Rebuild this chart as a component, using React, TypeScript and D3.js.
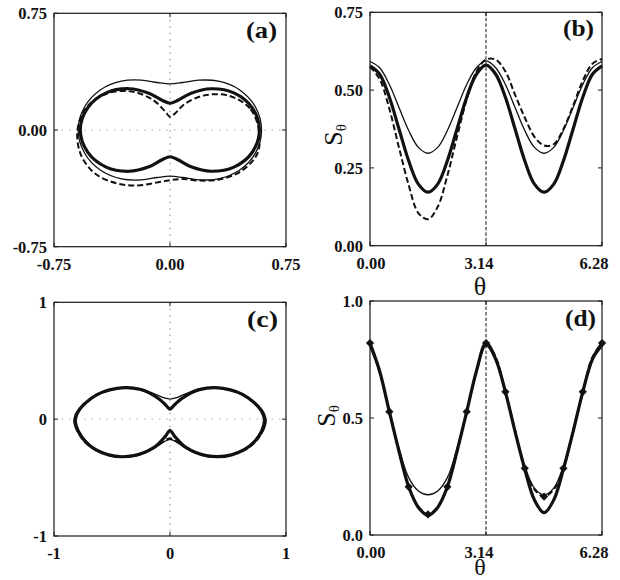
import React from 'react';
import * as d3 from 'd3';

// sample angles (rad), step pi/12
const THETA = [0, 0.262, 0.524, 0.785, 1.047, 1.309, 1.571, 1.833, 2.094, 2.356, 2.618, 2.880, 3.142,
  3.403, 3.665, 3.927, 4.189, 4.451, 4.712, 4.974, 5.236, 5.498, 5.760, 6.021, 6.283];

// panel (b) / (a)
const B_THIN = [0.592, 0.572, 0.518, 0.444, 0.370, 0.316, 0.297, 0.316, 0.370, 0.444, 0.518, 0.572, 0.594,
  0.572, 0.518, 0.444, 0.370, 0.316, 0.297, 0.316, 0.370, 0.444, 0.518, 0.572, 0.592];
const B_THICK = [0.578, 0.551, 0.477, 0.375, 0.273, 0.198, 0.172, 0.198, 0.273, 0.375, 0.477, 0.551, 0.580,
  0.551, 0.477, 0.375, 0.273, 0.198, 0.172, 0.198, 0.273, 0.375, 0.477, 0.551, 0.578];
const B_DASHED = [0.575, 0.535, 0.440, 0.315, 0.195, 0.105, 0.085, 0.125, 0.225, 0.350, 0.470, 0.560, 0.598,
  0.598, 0.560, 0.485, 0.412, 0.350, 0.322, 0.326, 0.375, 0.450, 0.530, 0.585, 0.600];

// panel (d) / (c)
const D_THIN = [0.805, 0.695, 0.527, 0.370, 0.245, 0.188, 0.172, 0.188, 0.245, 0.370, 0.527, 0.695, 0.808,
  0.745, 0.608, 0.448, 0.295, 0.200, 0.172, 0.200, 0.295, 0.448, 0.608, 0.745, 0.805];
const D_THICK = [0.820, 0.700, 0.527, 0.358, 0.206, 0.118, 0.085, 0.118, 0.206, 0.358, 0.527, 0.700, 0.820,
  0.752, 0.612, 0.442, 0.282, 0.150, 0.095, 0.150, 0.282, 0.442, 0.612, 0.752, 0.820];
const D_DASHED = [0.820, 0.695, 0.527, 0.355, 0.206, 0.122, 0.088, 0.122, 0.206, 0.355, 0.527, 0.695, 0.820,
  0.760, 0.612, 0.448, 0.285, 0.195, 0.164, 0.195, 0.285, 0.448, 0.612, 0.760, 0.820];

const A_TICKS = [-0.75, 0, 0.75];
const A_LABELS = ['-0.75', '0.00', '0.75'];
const C_TICKS = [-1, 0, 1];
const C_LABELS = ['-1', '0', '1'];
const THETA_TICKS = [0, 3.14, 6.28];
const THETA_LABELS = ['0.00', '3.14', '6.28'];
const B_YTICKS = [0, 0.25, 0.5, 0.75];
const B_YLABELS = ['0.00', '0.25', '0.50', '0.75'];
const D_YTICKS = [0, 0.5, 1];
const D_YLABELS = ['0.0', '0.5', '1.0'];

const FONT = "'Liberation Serif', 'DejaVu Serif', serif";

type Style = { w: number; dash?: string };
const THIN: Style = { w: 1.3 };
const THICK: Style = { w: 3.2 };
const DASH: Style = { w: 2, dash: '6,3' };

type Box = { x0: number; x1: number; y0: number; y1: number };

function Frame({ b, xt, yt, xs, ys }: { b: Box; xt: number[]; yt: number[]; xs: any; ys: any }) {
  const L = 4;
  return (
    <g>
      <rect x={b.x0} y={b.y0} width={b.x1 - b.x0} height={b.y1 - b.y0} fill="none" stroke="#1a1a1a" strokeWidth={1.2} />
      {yt.map((v, i) => (
        <g key={'y' + i}>
          <line x1={b.x0} x2={b.x0 + L} y1={ys(v)} y2={ys(v)} stroke="#1a1a1a" strokeWidth={1} />
          <line x1={b.x1} x2={b.x1 - L} y1={ys(v)} y2={ys(v)} stroke="#1a1a1a" strokeWidth={1} />
        </g>
      ))}
      {xt.map((v, i) => (
        <g key={'x' + i}>
          <line x1={xs(v)} x2={xs(v)} y1={b.y1} y2={b.y1 - L} stroke="#1a1a1a" strokeWidth={1} />
          <line x1={xs(v)} x2={xs(v)} y1={b.y0} y2={b.y0 + L} stroke="#1a1a1a" strokeWidth={1} />
        </g>
      ))}
    </g>
  );
}

function TickLabels({ b, xt, xl, yt, yl, xs, ys, xlShift }: any) {
  return (
    <g fontFamily={FONT} fontWeight="bold" fontSize={16.5} fill="#111">
      {yt.map((v: number, i: number) => (
        <text key={'yl' + i} x={b.x0 - 7} y={ys(v) + 6} textAnchor="end">{yl[i]}</text>
      ))}
      {xt.map((v: number, i: number) => (
        <text key={'xl' + i} x={xs(v) + (xlShift ? xlShift[i] : 0)} y={b.y1 + 23} textAnchor="middle">{xl[i]}</text>
      ))}
    </g>
  );
}

function PanelLabel({ x, y, t }: { x: number; y: number; t: string }) {
  return (
    <text x={x} y={y} textAnchor="end" fontFamily={FONT} fontSize={23} fontWeight="bold" fill="#111"
      textLength={31} lengthAdjust="spacingAndGlyphs">{t}</text>
  );
}

function PolarPanel({ b, dom, ticks, labels, series, label, lx, ly }: any) {
  const xs = d3.scaleLinear().domain([-dom, dom]).range([b.x0, b.x1]);
  const ys = d3.scaleLinear().domain([-dom, dom]).range([b.y1, b.y0]);
  const line = d3.line().curve(d3.curveCatmullRomClosed.alpha(0.5));
  return (
    <g>
      <line x1={xs(0)} x2={xs(0)} y1={b.y0} y2={b.y1} stroke="#777" strokeWidth={0.9} strokeDasharray="1.5,5" />
      <line x1={b.x0} x2={b.x1} y1={ys(0)} y2={ys(0)} stroke="#999" strokeWidth={0.8} strokeDasharray="1.5,6" />
      {series.map((s: any, i: number) => {
        const pts = THETA.slice(0, 24).map((t, k) => [xs(s.v[k] * Math.cos(t)), ys(s.v[k] * Math.sin(t))] as [number, number]);
        return <path key={i} d={line(pts) || ''} fill="none" stroke="#111" strokeWidth={s.st.w}
          strokeDasharray={s.st.dash} strokeLinejoin="round" />;
      })}
      <Frame b={b} xt={ticks} yt={ticks} xs={xs} ys={ys} />
      <TickLabels b={b} xt={ticks} xl={labels} yt={ticks} yl={labels} xs={xs} ys={ys} />
      <PanelLabel x={lx} y={ly} t={label} />
    </g>
  );
}

function CartPanel({ b, ymax, yt, yl, series, markers, label, lx, ly, sx, sy, ty, tf }: any) {
  const xs = d3.scaleLinear().domain([0, 6.28]).range([b.x0, b.x1]);
  const ys = d3.scaleLinear().domain([0, ymax]).range([b.y1, b.y0]);
  const line = d3.line<number>().x((_, i) => xs(THETA[i])).y(d => ys(d)).curve(d3.curveCatmullRom.alpha(0.5));
  const sym = d3.symbol(d3.symbolSquare, 34)();
  return (
    <g>
      <line x1={xs(3.14)} x2={xs(3.14)} y1={b.y0} y2={b.y1} stroke="#111" strokeWidth={1} strokeDasharray="3.5,2" />
      {series.map((s: any, i: number) => (
        <path key={i} d={line(s.v) || ''} fill="none" stroke="#111" strokeWidth={s.st.w}
          strokeDasharray={s.st.dash} strokeLinejoin="round" />
      ))}
      {markers && markers.map((v: number, k: number) => (k % 2 === 0 ? (
        <path key={'m' + k} d={sym || ''} transform={`translate(${xs(THETA[k])},${ys(v)}) rotate(45)`} fill="#111" />
      ) : null))}
      <Frame b={b} xt={THETA_TICKS} yt={yt} xs={xs} ys={ys} />
      <TickLabels b={b} xt={THETA_TICKS} xl={THETA_LABELS} yt={yt} yl={yl} xs={xs} ys={ys} xlShift={[1, -7, -8]} />
      <PanelLabel x={lx} y={ly} t={label} />
      <text x={480} y={ty} textAnchor="middle" fontFamily={FONT} fontSize={tf} fill="#111">θ</text>
      <text transform={`translate(${sx},${sy}) rotate(-90)`} textAnchor="middle" fontFamily={FONT} fontSize={26} fill="#111">
        S<tspan fontSize={15} dy={4}>θ</tspan>
      </text>
    </g>
  );
}

export default function App() {
  const A: Box = { x0: 54, x1: 286, y0: 13.3, y1: 246.7 };
  const Bb: Box = { x0: 370, x1: 602, y0: 12.3, y1: 245.7 };
  const C: Box = { x0: 54, x1: 286, y0: 302.3, y1: 536 };
  const D: Box = { x0: 370, x1: 602, y0: 301, y1: 535 };
  return (
    <svg width={620} height={580} style={{ position: 'absolute', left: 0, top: 0, background: '#fff' }}>
      <rect width={620} height={580} fill="#fff" />
      <PolarPanel b={A} dom={0.75} ticks={A_TICKS} labels={A_LABELS} label="(a)" lx={277} ly={38}
        series={[{ v: B_THIN, st: THIN }, { v: B_THICK, st: THICK }, { v: B_DASHED, st: DASH }]} />
      <CartPanel b={Bb} ymax={0.75} yt={B_YTICKS} yl={B_YLABELS} label="(b)" lx={594} ly={36} sx={342} sy={135} ty={295} tf={26}
        series={[{ v: B_THIN, st: THIN }, { v: B_THICK, st: THICK }, { v: B_DASHED, st: DASH }]} />
      <PolarPanel b={C} dom={1} ticks={C_TICKS} labels={C_LABELS} label="(c)" lx={278} ly={327}
        series={[{ v: D_THIN, st: THIN }, { v: D_THICK, st: THICK }, { v: D_DASHED, st: DASH }]} />
      <CartPanel b={D} ymax={1} yt={D_YTICKS} yl={D_YLABELS} label="(d)" lx={596} ly={326} sx={335} sy={416} ty={575} tf={24}
        series={[{ v: D_THIN, st: THIN }, { v: D_THICK, st: THICK }, { v: D_DASHED, st: DASH }]} markers={D_DASHED} />
    </svg>
  );
}
